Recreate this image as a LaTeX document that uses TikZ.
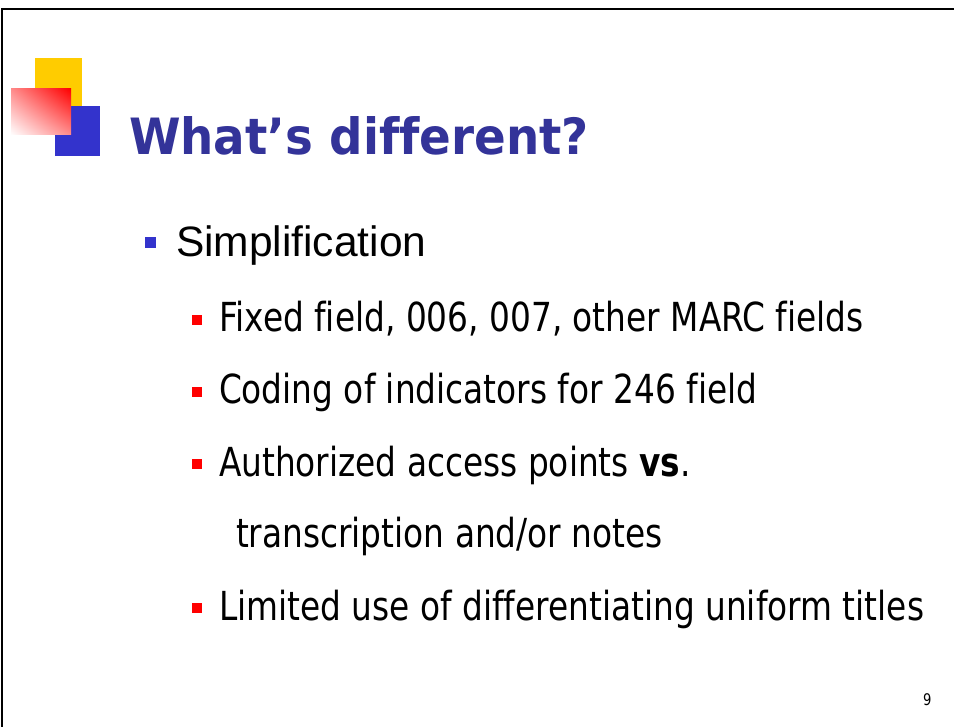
\documentclass[tikz,border=0pt]{standalone}
\usepackage{fontspec}
\usetikzlibrary{shadings}
\setmainfont[Ligatures={TeX,NoCommon}]{Liberation Sans}
\newfontfamily\titlefont[FakeStretch=0.935,Ligatures={TeX,NoCommon}]{DejaVu Sans}
\newfontfamily\itemfont[FakeStretch=0.82,Ligatures={TeX,NoCommon}]{DejaVu Sans}
\definecolor{titleblue}{HTML}{333399}
\definecolor{logoblue}{HTML}{3333CC}
\definecolor{logoyellow}{HTML}{FFCC00}

\begin{document}
\begin{tikzpicture}[x=1pt,y=-1pt,
    every node/.style={inner sep=0pt,outer sep=0pt},
    maintext/.style={anchor=base west,font=\fontsize{42.5}{50}\selectfont},
    subtext/.style={anchor=base west,font=\itemfont\fontsize{40}{48}\selectfont},
    bluesq/.style={fill=logoblue,minimum size=11pt},
    redsq/.style={fill=red,minimum size=10pt}]
      \useasboundingbox (0,0) rectangle (954,727);
      \fill [white] (0,0) rectangle (954,727);
      \draw [black,line width=2.5pt] (2,727) -- (2,9) -- (954,9);
      \fill [logoyellow] (35,58) rectangle (82,106);
      \fill [logoblue] (55,106) rectangle (100,156);
      \shade [upper right=red,lower left=white,upper left=red!45!white,lower right=red!45!white] (11,89) rectangle (71,135);
      \node [anchor=base west,text=titleblue,font=\titlefont\bfseries\fontsize{50}{60}\selectfont] (title) at (129,155) {What’s different?};
      \node [bluesq] (b0) at (150.5,242.5) {};
      \node [maintext] (simp) at (176,257) {Simplification};
      \node [redsq] (b1) at (197,320) {};
      \node [subtext] (fixed) at (219,332) {Fixed field, 006, 007, other MARC fields};
      \node [redsq] (b2) at (197,392) {};
      \node [subtext] (coding) at (219,404) {Coding of indicators for 246 field};
      \node [redsq] (b3) at (197,464) {};
      \node [subtext] (auth) at (219,476) {Authorized access points \textbf{vs}.};
      \node [subtext] (transc) at (236,547) {transcription and/or notes};
      \node [redsq] (b4) at (197,608) {};
      \node [subtext] (limited) at (219,620) {Limited use of differentiating uniform titles};
      \node [anchor=base west,font=\itemfont\fontsize{16}{18}\selectfont] (pagenum) at (923,705) {9};
\end{tikzpicture}
\end{document}
